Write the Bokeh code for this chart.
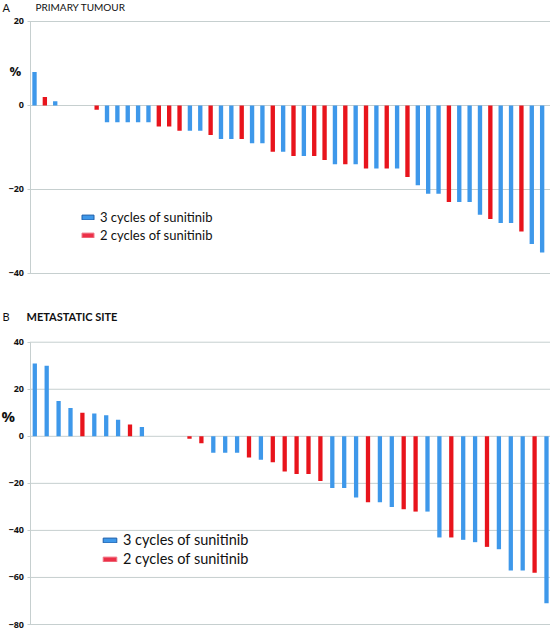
from bokeh.plotting import figure
from bokeh.models import ColumnDataSource, Range1d, FixedTicker, Legend, LegendItem, Label
from bokeh.layouts import column
from bokeh.embed import file_html
from bokeh.resources import INLINE

# ---------------- data ----------------
legend_labels = ["3 cycles of sunitinib", "2 cycles of sunitinib"]

# Panel A: primary tumour (% change), one bar per patient
primary_values = [8, 2, 1, 0, 0, 0, -1, -4, -4, -4, -4, -4, -5, -5, -6, -6, -6, -7, -8, -8,
                  -8, -9, -9, -11, -11, -12, -12, -12, -13, -14, -14, -14, -15, -15, -15, -15,
                  -17, -19, -21, -21, -23, -23, -23, -26, -27, -28, -28, -30, -33, -35]
primary_cycles = [3, 2, 3, 0, 0, 0, 2, 3, 3, 3, 3, 3, 2, 2, 2, 3, 3, 2, 3, 3,
                  2, 3, 3, 2, 3, 2, 3, 2, 2, 3, 2, 3, 2, 3, 2, 3,
                  2, 3, 3, 3, 2, 3, 3, 3, 2, 3, 3, 2, 3, 3]
primary_ticks = [20, 0, -20, -40]

# Panel B: metastatic site (% change)
metastatic_values = [31, 30, 15, 12, 10, 9.7, 9, 7, 5, 4, 0, 0, 0, -1, -3, -7, -7, -7, -9, -10,
                     -11, -15, -16, -16, -19, -22, -22, -26, -28, -28, -30, -31, -32, -32,
                     -43, -43, -44, -45, -47, -48, -57, -57, -58, -71]
metastatic_cycles = [3, 3, 3, 3, 2, 3, 3, 3, 2, 3, 0, 0, 0, 2, 2, 3, 3, 3, 2, 3,
                     2, 2, 2, 2, 2, 3, 3, 3, 2, 3, 3, 2, 2, 3,
                     3, 2, 3, 3, 2, 3, 3, 3, 2, 3]
metastatic_ticks = [40, 20, 0, -20, -40, -60, -80]

BLUE = "#3e98ea"
RED = "#e8141c"
GRID = "#c6cfcf"
FONT = "Lato"
W = 550
NAN = float("nan")


def make_panel(values, cycles, ticks, yr, xr, axis_x, height, bar_w,
               letter, letter_pos, title, title_pos, title_bold, title_size,
               pct_pos, pct_size, legend_loc, legend_size, glyph_w, row_h):
    p = figure(width=W, height=height, title=None,
               x_range=Range1d(*xr), y_range=Range1d(*yr),
               x_axis_location=None, y_axis_location="left",
               output_backend="svg", toolbar_location=None,
               min_border_left=0, min_border_right=0,
               min_border_top=0, min_border_bottom=0)
    p.outline_line_color = None
    p.background_fill_color = "white"
    p.border_fill_color = "white"
    p.xgrid.grid_line_color = None
    p.ygrid.grid_line_color = None

    ax = p.yaxis[0]
    ax.fixed_location = axis_x
    ax.bounds = (min(ticks), max(ticks))
    ax.ticker = FixedTicker(ticks=ticks)
    ax.axis_line_color = GRID
    ax.major_tick_line_color = GRID
    ax.major_tick_out = 3
    ax.major_tick_in = 0
    ax.minor_tick_line_color = None
    ax.major_label_standoff = 3
    ax.major_label_text_font = "Open Sans"
    ax.major_label_text_font_style = "bold"
    ax.major_label_text_font_size = "9px"
    ax.major_label_text_color = "#111111"

    # horizontal grid lines starting at the axis
    p.segment(x0=[axis_x] * len(ticks), x1=[xr[1]] * len(ticks), y0=ticks, y1=ticks,
              line_color=GRID, line_width=1)

    for cyc, col in ((3, BLUE), (2, RED)):
        xs = [i for i, c in enumerate(cycles) if c == cyc]
        tops = [values[i] for i in xs]
        src = ColumnDataSource(dict(x=xs, top=tops))
        p.vbar(x="x", top="top", bottom=0, width=bar_w, source=src,
               fill_color=col, line_color=None)

    # legend swatches (proxy renderers, nothing drawn in the plot)
    sw_b = p.vbar(x=[NAN], top=[NAN], width=bar_w, fill_color=BLUE,
                  line_color="#1f5ea8", line_width=1)
    sw_r = p.vbar(x=[NAN], top=[NAN], width=bar_w, fill_color="#ec3048",
                  line_color="#f07888", line_width=1)
    legend = Legend(items=[LegendItem(label=legend_labels[0], renderers=[sw_b]),
                           LegendItem(label=legend_labels[1], renderers=[sw_r])],
                    location=legend_loc, orientation="vertical",
                    glyph_width=glyph_w, glyph_height=6, label_height=row_h,
                    label_standoff=5, spacing=0, padding=0, margin=0,
                    background_fill_alpha=0, border_line_color=None,
                    label_text_font=FONT, label_text_font_size=legend_size,
                    label_text_color="#111111")
    p.add_layout(legend)

    p.add_layout(Label(x=letter_pos[0], y=letter_pos[1], x_units="screen", y_units="screen",
                       text=letter, text_font=FONT, text_font_size="11px",
                       text_color="#111111", text_baseline="alphabetic"))
    p.add_layout(Label(x=title_pos[0], y=title_pos[1], x_units="screen", y_units="screen",
                       text=title, text_font=FONT, text_font_size=title_size,
                       text_color="#111111",
                       text_font_style="bold" if title_bold else "normal",
                       text_baseline="alphabetic"))
    p.add_layout(Label(x=pct_pos[0], y=pct_pos[1], x_units="screen", y_units="screen",
                       text="%", text_font="Open Sans", text_font_size=pct_size,
                       text_color="#111111", text_font_style="bold",
                       text_baseline="alphabetic"))
    return p


# top panel: bar i centred at 34 + 10.36*i px, 4.2 px per %
top = make_panel(primary_values, primary_cycles, primary_ticks,
                 yr=(-46.43, 25.0), xr=(-3.282, -3.282 + W / 10.36), axis_x=-0.434,
                 height=300, bar_w=0.42,
                 letter="A", letter_pos=(2, 293.5),
                 title="PRIMARY TUMOUR", title_pos=(35, 294), title_bold=False,
                 title_size="10px",
                 pct_pos=(9, 230), pct_size="13px",
                 legend_loc=(80, 56), legend_size="13px", glyph_w=15, row_h=18)

# bottom panel: bar i centred at 34.3 + 11.9*i px, 2.3525 px per %
bottom = make_panel(metastatic_values, metastatic_cycles, metastatic_ticks,
                    yr=(-83.40, 57.73), xr=(-2.882, -2.882 + W / 11.9), axis_x=-0.403,
                    height=332, bar_w=0.36,
                    letter="B", letter_pos=(2, 316),
                    title="METASTATIC SITE", title_pos=(26, 316), title_bold=True,
                    title_size="11px",
                    pct_pos=(1, 217), pct_size="15px",
                    legend_loc=(101, 64), legend_size="14.5px", glyph_w=17, row_h=19)

layout = column(top, bottom, spacing=0)
open("out.html", "w").write(file_html(layout, INLINE))
